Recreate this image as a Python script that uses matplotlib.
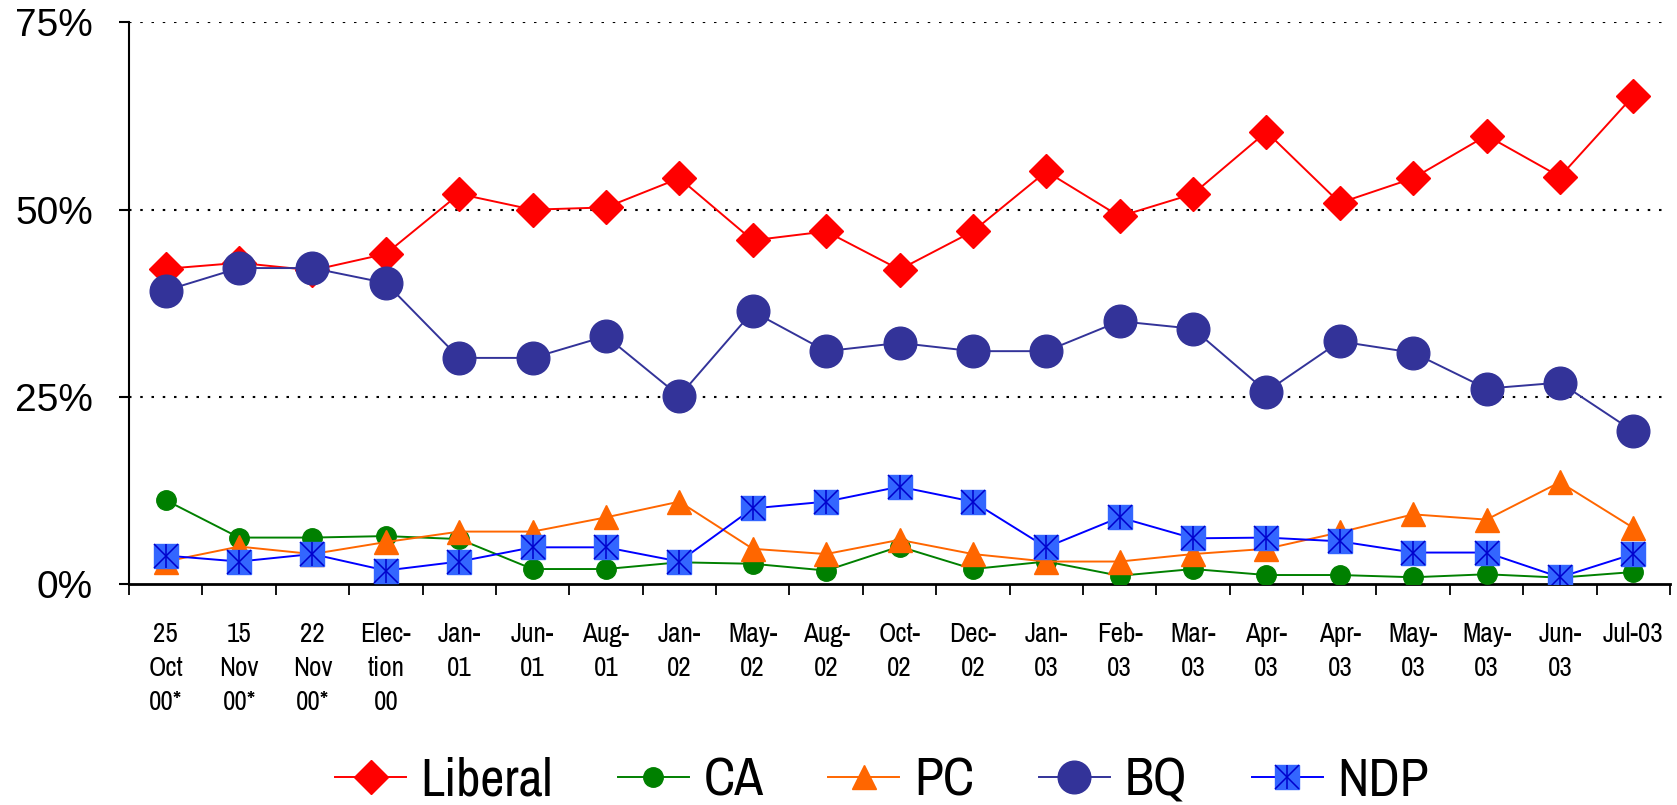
import matplotlib
matplotlib.use("Agg")
import matplotlib.pyplot as plt
from matplotlib.ticker import FixedLocator, FuncFormatter
from matplotlib.legend_handler import HandlerTuple

NARROW = ['Archivo Narrow', 'Liberation Sans Narrow', 'Roboto Condensed', 'DejaVu Sans']
plt.rcParams['font.family'] = NARROW

categories = ["25\nOct\n00*", "15\nNov\n00*", "22\nNov\n00*", "Elec-\ntion\n00",
              "Jan-\n01", "Jun-\n01", "Aug-\n01", "Jan-\n02", "May-\n02", "Aug-\n02",
              "Oct-\n02", "Dec-\n02", "Jan-\n03", "Feb-\n03", "Mar-\n03", "Apr-\n03",
              "Apr-\n03", "May-\n03", "May-\n03", "Jun-\n03", "Jul-03"]

liberal = [42.1, 42.9, 41.9, 44.1, 52.1, 50.0, 50.3, 54.2, 45.9, 47.1, 42.0,
           47.1, 55.1, 49.1, 52.1, 60.4, 50.9, 54.2, 59.9, 54.4, 65.2]
ca = [11.2, 6.2, 6.2, 6.4, 6.0, 2.0, 2.0, 2.9, 2.7, 1.8, 5.0,
      2.0, 3.0, 1.1, 2.0, 1.2, 1.2, 0.9, 1.3, 0.85, 1.6]
pc = [3.0, 5.0, 4.0, 5.6, 7.0, 7.0, 8.9, 11.0, 4.7, 4.0, 5.9,
      4.0, 3.0, 3.0, 4.0, 4.7, 6.9, 9.3, 8.6, 13.6, 7.5]
bq = [39.2, 42.2, 42.2, 40.2, 30.2, 30.2, 33.1, 25.1, 36.4, 31.1, 32.2,
      31.1, 31.1, 35.1, 34.1, 25.7, 32.4, 30.9, 26.1, 26.9, 20.4]
ndp = [3.8, 3.0, 4.0, 1.8, 3.0, 4.9, 4.9, 3.0, 10.1, 11.0, 13.0,
       11.0, 4.9, 8.9, 6.1, 6.2, 5.7, 4.2, 4.2, 0.9, 4.0]
yticks = [0, 25, 50, 75]

W, H, DPI = 1677, 805, 100
fig = plt.figure(figsize=(W / DPI, H / DPI), dpi=DPI)
ax = fig.add_axes([129 / W, 1 - 584 / H, (1670 - 129) / W, (584 - 22.5) / H])

x = list(range(len(categories)))

l_lib, = ax.plot(x, liberal, color='#FF0000', lw=1.4, marker='D', ms=17.5,
                 mfc='#FF0000', mec='#FF0000', label='Liberal', zorder=3)
l_ca, = ax.plot(x, ca, color='#008000', lw=1.4, marker='o', ms=14,
                mfc='#008000', mec='#008000', label='CA', zorder=4)
l_pc, = ax.plot(x, pc, color='#FF6600', lw=1.4, marker='^', ms=17,
                mfc='#FF6600', mec='#FF6600', label='PC', zorder=5)
l_bq, = ax.plot(x, bq, color='#333399', lw=1.4, marker='o', ms=23.5,
                mfc='#333399', mec='#333399', label='BQ', zorder=3)
l_ndp, = ax.plot(x, ndp, color='#0000FF', lw=1.4, marker='s', ms=17.5,
                 mfc='#3366FF', mec='#3366FF', label='NDP', zorder=6)
l_ndp_x, = ax.plot(x, ndp, ls='none', marker='x', ms=17, mec='#0000CC',
                   mew=1.1, zorder=7)
l_ndp_v, = ax.plot(x, ndp, ls='none', marker='|', ms=17.5, mec='#0000CC',
                   mew=1.1, zorder=7)

ax.set_xlim(-0.5, len(categories) - 0.5)
ax.set_ylim(0, 75)

ax.yaxis.set_major_locator(FixedLocator(yticks))
ax.yaxis.set_major_formatter(FuncFormatter(lambda v, p: f"{int(v)}%"))
ax.tick_params(axis='y', which='major', direction='out', length=7, width=1.5,
               labelsize=28, pad=19)
for lab in ax.get_yticklabels():
    lab.set_family(['Liberation Sans', 'DejaVu Sans'])
for t in yticks[1:]:
    ax.axhline(t, color='black', lw=1.5, ls=(0, (1.2, 4.2)), zorder=1)

ax.set_xticks(x)
ax.set_xticklabels(categories, linespacing=1.45)
ax.xaxis.set_minor_locator(FixedLocator([i - 0.5 for i in range(len(categories) + 1)]))
ax.tick_params(axis='x', which='major', length=0, labelsize=19.5, pad=27)
ax.tick_params(axis='x', which='minor', direction='out', length=8, width=1.3)

for s in ['top', 'right']:
    ax.spines[s].set_visible(False)
ax.spines['left'].set_linewidth(1.5)
ax.spines['bottom'].set_linewidth(2)

fig.legend([l_lib, l_ca, l_pc, l_bq, (l_ndp, l_ndp_x, l_ndp_v)],
           ['Liberal', 'CA', 'PC', 'BQ', 'NDP'],
           handler_map={tuple: HandlerTuple(ndivide=1)},
           loc='center', bbox_to_anchor=(0.526, 0.03), ncol=5, frameon=False,
           fontsize=38, handlelength=1.34, handletextpad=0.28, columnspacing=1.23,
           borderpad=0)

fig.savefig('out.png', dpi=DPI)
